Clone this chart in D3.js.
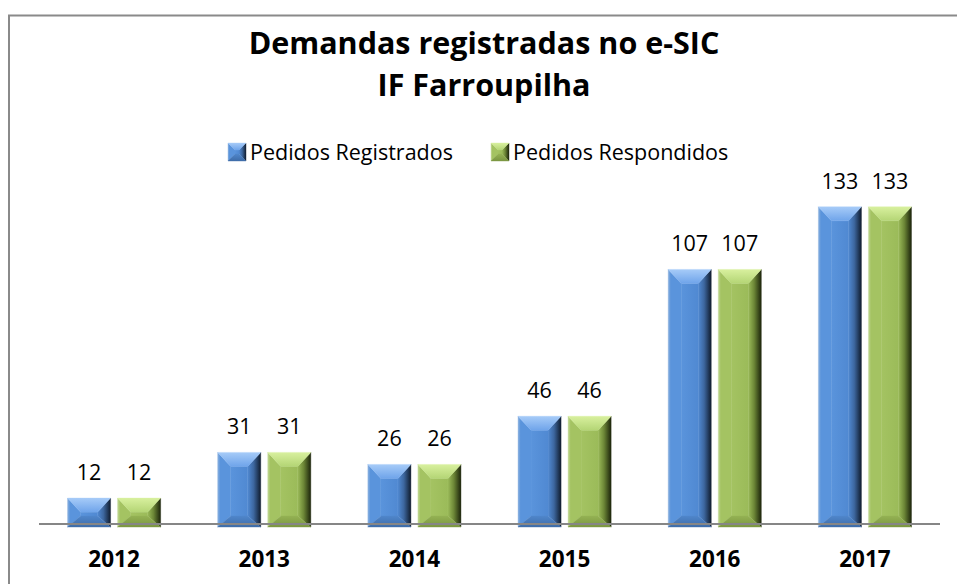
<!DOCTYPE html>
<html>
<head>
<meta charset="utf-8">
<script src="https://cdn.jsdelivr.net/npm/d3@7"></script>
<style>
  body { margin: 0; background: #fff; }
  text { font-family: "Open Sans", Lato, sans-serif; fill: #000; }
</style>
</head>
<body>
<div id="chartArea"></div>
<script>
// data
var years = ['2012', '2013', '2014', '2015', '2016', '2017'];
var registrados = [12, 31, 26, 46, 107, 133];
var respondidos = [12, 31, 26, 46, 107, 133];
var seriesNames = ['Pedidos Registrados', 'Pedidos Respondidos'];
var titleLines = ['Demandas registradas no e-SIC', 'IF Farroupilha'];

var W = 957, H = 584;
// gradient stops per bevel side: [offset, colour]
var palettes = [
    {key: 'blue',
     face: [[0, '#5a94dc'], [1, '#5089d2']],
     top: [[0, '#a6cbf8'], [1, '#6fa4ea']],
     left: [[0, '#8ab0de'], [0.2, '#5a94dc'], [1, '#5a94dc']],
     right: [[0, '#5089d2'], [0.45, '#3d679f'], [1, '#101c2e']],
     bottom: [[0, '#4f86cb'], [1, '#3e6ca8']]},
    {key: 'green',
     face: [[0, '#a4c362'], [1, '#9bbb59']],
     top: [[0, '#d8f09e'], [1, '#b4d575']],
     left: [[0, '#c2d896'], [0.2, '#a4c362'], [1, '#a4c362']],
     right: [[0, '#9bbb59'], [0.45, '#6c8636'], [1, '#1c240b']],
     bottom: [[0, '#94b253'], [1, '#7a9641']]}
];

var svg = d3.select('#chartArea').append('svg')
    .attr('width', W)
    .attr('height', H);

svg.append('rect').attr('width', W).attr('height', H).attr('fill', '#fff');

// outer chart-area frame (right/bottom edges fall outside the picture)
svg.append('rect')
    .attr('x', 9).attr('y', 15.5)
    .attr('width', 1000).attr('height', 700)
    .attr('fill', 'none')
    .attr('stroke', '#8a8a8a')
    .attr('stroke-width', 2);

var defs = svg.append('defs');
palettes.forEach(function (p) {
    [['face', 0, 0, 1, 0], ['top', 0, 0, 0, 1], ['left', 0, 0, 1, 0],
     ['right', 0, 0, 1, 0], ['bottom', 0, 0, 0, 1]].forEach(function (s) {
        var g = defs.append('linearGradient')
            .attr('id', p.key + '-' + s[0])
            .attr('x1', s[1]).attr('y1', s[2]).attr('x2', s[3]).attr('y2', s[4]);
        p[s[0]].forEach(function (st) {
            g.append('stop').attr('offset', st[0]).attr('stop-color', st[1]);
        });
    });
});

function bevel(g, x, y, w, h, key, t, b, l, r) {
    t = Math.min(t, h / 2); b = Math.min(b, h / 2);
    var pts = {
        face: [[x + l, y + t], [x + w - r, y + t], [x + w - r, y + h - b], [x + l, y + h - b]],
        top: [[x, y], [x + w, y], [x + w - r, y + t], [x + l, y + t]],
        bottom: [[x, y + h], [x + w, y + h], [x + w - r, y + h - b], [x + l, y + h - b]],
        left: [[x, y], [x + l, y + t], [x + l, y + h - b], [x, y + h]],
        right: [[x + w, y], [x + w - r, y + t], [x + w - r, y + h - b], [x + w, y + h]]
    };
    ['face', 'left', 'right', 'bottom', 'top'].forEach(function (k) {
        g.append('polygon')
            .attr('points', pts[k].map(function (p) { return p.join(','); }).join(' '))
            .attr('fill', 'url(#' + key + '-' + k + ')')
            .attr('stroke', 'url(#' + key + '-' + k + ')')
            .attr('stroke-width', 0.4);
    });
}

// title
svg.selectAll('.title')
    .data(titleLines)
    .enter()
    .append('text')
    .attr('class', 'title')
    .attr('x', 484)
    .attr('y', function (d, i) { return 54 + i * 42; })
    .attr('text-anchor', 'middle')
    .style('font-size', '30.5px')
    .style('font-weight', 'bold')
    .text(function (d) { return d; });

// legend
var legendX = [228, 491];
var legend = svg.selectAll('.legend')
    .data(seriesNames)
    .enter()
    .append('g')
    .attr('class', 'legend')
    .attr('transform', function (d, i) { return 'translate(' + legendX[i] + ', 143)'; });

legend.each(function (d, i) {
    bevel(d3.select(this), 0, 0, 18, 18, palettes[i].key, 7, 7, 7, 7);
});
legend.append('text')
    .attr('x', 22)
    .attr('y', 17)
    .style('font-size', '21.5px')
    .text(function (d) { return d; });

// scales
var xScale = d3.scaleBand()
    .domain(years)
    .range([39, 940])
    .paddingInner(0.38)
    .paddingOuter(0.19);

var x1 = d3.scaleBand()
    .domain([0, 1])
    .range([0, xScale.bandwidth()])
    .paddingInner(0.14);

var yScale = d3.scaleLinear()
    .domain([0, 140])
    .range([527, 190]);

var series = [registrados, respondidos];
var groups = svg.selectAll('.year')
    .data(years)
    .enter()
    .append('g')
    .attr('class', 'year')
    .attr('transform', function (d) { return 'translate(' + xScale(d) + ', 0)'; });

groups.each(function (yr, yi) {
    var g = d3.select(this);
    series.forEach(function (vals, si) {
        var v = vals[yi];
        var bx = x1(si), bw = x1.bandwidth();
        var top = yScale(v), h = yScale(0) - top;
        bevel(g, bx, top, bw, h, palettes[si].key, 14, 11, 13, 13);
        g.append('text')
            .attr('class', 'value')
            .attr('x', bx + bw / 2)
            .attr('y', top - 18)
            .attr('text-anchor', 'middle')
            .style('font-size', '21.5px')
            .text(v);
    });
});

// category axis line
svg.append('line')
    .attr('x1', 39).attr('x2', 940)
    .attr('y1', 524).attr('y2', 524)
    .attr('stroke', '#868686')
    .attr('stroke-width', 2);

svg.selectAll('.yearLabel')
    .data(years)
    .enter()
    .append('text')
    .attr('class', 'yearLabel')
    .attr('x', function (d) { return xScale(d) + xScale.bandwidth() / 2; })
    .attr('y', 567)
    .attr('text-anchor', 'middle')
    .style('font-size', '22.5px')
    .style('font-weight', 'bold')
    .text(function (d) { return d; });
</script>
</body>
</html>
